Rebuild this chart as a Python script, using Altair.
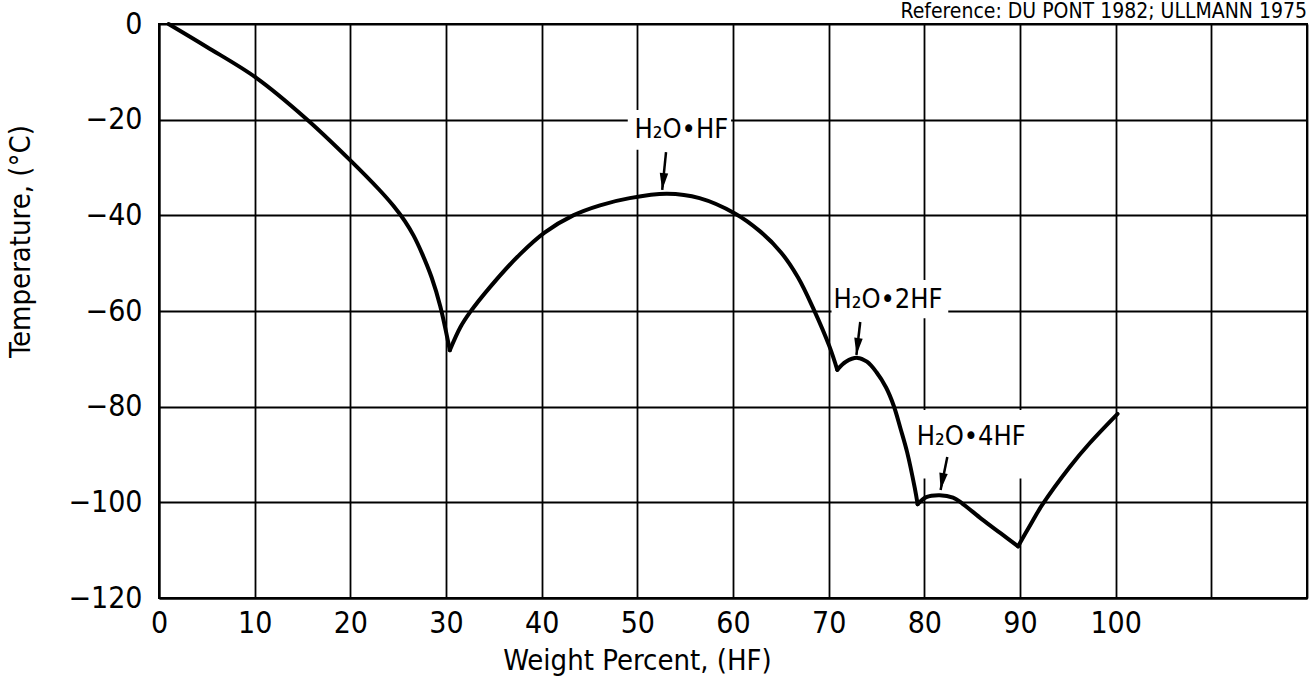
import altair as alt
import pandas as pd

# ---- data ----
seg1_x = [1.0, 5.0, 10.2, 15.5, 20.0, 23.0, 24.5, 25.7, 26.6, 27.5, 28.5, 29.4, 30.4]
seg1_y = [0.0, -4.8, -11.3, -20.0, -28.5, -34.6, -38.0, -41.2, -44.2, -48.0, -53.0, -59.0, -68.2]
seg2_x = [30.4, 31.5, 32.5, 34.6, 37.7, 40.3, 43.3, 46.1, 49.2, 53.1, 56.5, 60.2, 62.8, 65.0, 66.8, 68.4, 70.1, 70.9]
seg2_y = [-68.2, -63.4, -60.3, -55.0, -48.2, -43.6, -40.0, -37.9, -36.4, -35.5, -36.4, -39.6, -43.3, -47.7, -53.0, -59.5, -67.5, -72.3]
seg3_x = [70.9, 71.8, 73.0, 74.0, 75.0, 76.0, 76.8, 77.5, 78.2, 79.0, 79.3]
seg3_y = [-72.3, -70.6, -69.8, -70.6, -72.8, -76.0, -79.8, -84.5, -89.5, -97.0, -100.4]
seg4_x = [79.3, 80.2, 81.6, 83.0, 84.0, 86.0, 88.0, 89.8]
seg4_y = [-100.4, -98.9, -98.5, -99.0, -100.3, -103.5, -106.5, -109.2]
seg5_x = [89.8, 91.0, 92.3, 95.2, 97.3, 100.2]
seg5_y = [-109.2, -105.0, -100.6, -92.6, -87.6, -81.5]

x_ticks = list(range(0, 121, 10))
y_ticks = list(range(-120, 1, 20))

labels = ["H₂O•HF", "H₂O•2HF", "H₂O•4HF"]
label_x = [54.6, 76.2, 84.9]
label_y = [-22.2, -57.7, -86.3]
box_x1 = [49.0, 70.3, 79.3]
box_x2 = [59.8, 82.5, 91.0]
box_y1 = [-18.0, -53.5, -80.7]
box_y2 = [-26.3, -61.5, -95.0]
arrow_x1 = [53.0, 73.3, 82.4]
arrow_y1 = [-26.8, -62.3, -90.5]
arrow_x2 = [52.6, 72.9, 81.7]
arrow_y2 = [-34.7, -69.2, -97.4]
arrow_angle = [6, 7, 10]

reference_text = "Reference: DU PONT 1982; ULLMANN 1975"

# ---- tables ----
rows = []
for sid, (xs_, ys_) in enumerate([(seg1_x, seg1_y), (seg2_x, seg2_y), (seg3_x, seg3_y),
                                   (seg4_x, seg4_y), (seg5_x, seg5_y)]):
    for i, (a, b) in enumerate(zip(xs_, ys_)):
        rows.append({"seg": sid, "order": i, "x": a, "y": b})
curve = pd.DataFrame(rows)

ann = pd.DataFrame({
    "label": labels, "lx": label_x, "ly": label_y,
    "bx1": box_x1, "bx2": box_x2, "by1": box_y1, "by2": box_y2,
    "ax1": arrow_x1, "ay1": arrow_y1, "ax2": arrow_x2, "ay2": arrow_y2,
    "ang": arrow_angle,
})
ref = pd.DataFrame({"t": [reference_text]})

FONT = "Liberation Sans Narrow, DejaVu Sans Condensed, sans-serif"
W, H = 1148, 574

xs = alt.Scale(domain=[0, 120], nice=False, zero=False)
ys = alt.Scale(domain=[-120, 0], nice=False, zero=False)

x_axis = alt.Axis(values=x_ticks, labelExpr="datum.value <= 100 ? datum.label : ''",
                  grid=True, gridColor="black", gridWidth=1.8, gridOpacity=1,
                  domainColor="black", domainWidth=2, ticks=False,
                  labelFont=FONT, labelFontSize=30, labelColor="black", labelPadding=10,
                  labelFlush=False,
                  title="Weight Percent, (HF)", titleFont=FONT, titleFontSize=29,
                  titleFontWeight="normal", titleColor="black",
                  titleX=478, titleY=62, titleAlign="center", titleBaseline="middle")
y_axis = alt.Axis(values=y_ticks, grid=True, gridColor="black", gridWidth=1.8, gridOpacity=1,
                  domainColor="black", domainWidth=2, ticks=False,
                  labelFont=FONT, labelFontSize=30, labelColor="black", labelPadding=17,
                  labelFlush=False,
                  title="Temperature, (°C)", titleFont=FONT, titleFontSize=29,
                  titleFontWeight="normal", titleColor="black", titleAngle=270,
                  titleX=-139, titleY=217, titleAlign="center", titleBaseline="middle")

line = alt.Chart(curve).mark_line(color="black", strokeWidth=4, interpolate="catmull-rom",
                                  strokeCap="round", strokeJoin="round").encode(
    x=alt.X("x:Q", scale=xs, axis=x_axis),
    y=alt.Y("y:Q", scale=ys, axis=y_axis),
    detail="seg:N",
    order="order:Q",
)

boxes = alt.Chart(ann).mark_rect(color="white", opacity=1).encode(
    x=alt.X("bx1:Q", scale=xs, axis=x_axis), x2="bx2:Q",
    y=alt.Y("by1:Q", scale=ys, axis=y_axis), y2="by2:Q",
)

texts = alt.Chart(ann).mark_text(font=FONT, fontSize=27, color="black",
                                 align="center", baseline="middle").encode(
    x=alt.X("lx:Q", scale=xs, axis=x_axis),
    y=alt.Y("ly:Q", scale=ys, axis=y_axis),
    text="label:N",
)

shafts = alt.Chart(ann).mark_rule(color="black", strokeWidth=2.5).encode(
    x=alt.X("ax1:Q", scale=xs, axis=x_axis), x2="ax2:Q",
    y=alt.Y("ay1:Q", scale=ys, axis=y_axis), y2="ay2:Q",
)

heads = alt.Chart(ann).mark_point(
    shape="M-0.5,-2L0.5,-2L0,0Z", filled=True, color="black", opacity=1, size=289
).encode(
    x=alt.X("ax2:Q", scale=xs, axis=x_axis),
    y=alt.Y("ay2:Q", scale=ys, axis=y_axis),
    angle=alt.Angle("ang:Q", scale=None),
)

title = alt.Chart(ref).mark_text(font=FONT, fontSize=21, color="black",
                                 align="right", baseline="alphabetic").encode(
    x=alt.value(W), y=alt.value(-6), text="t:N",
)

chart = alt.layer(line, boxes, texts, shafts, heads, title).properties(
    width=W, height=H,
    autosize=alt.AutoSizeParams(type="none"),
    padding={"left": 159, "top": 24, "right": 6, "bottom": 94},
).configure_view(stroke="black", strokeWidth=2)

chart.save("out.html", embed_options={"renderer": "svg", "actions": False})
